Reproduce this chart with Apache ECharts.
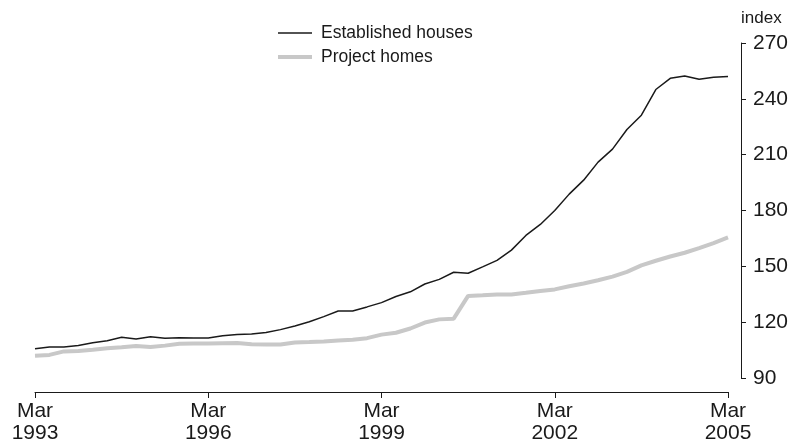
<!DOCTYPE html>
<html>
<head>
<meta charset="utf-8">
<style>
  html, body { margin: 0; padding: 0; background: #ffffff; }
  #chart { width: 792px; height: 445px; }
</style>
<script src="https://cdn.jsdelivr.net/npm/echarts@6/dist/echarts.min.js"></script>
</head>
<body>
<div id="chart"></div>
<script>
// Quarterly price indexes, March 1993 to March 2005
var quarters = [];
(function () {
  var months = ['Mar', 'Jun', 'Sep', 'Dec'];
  for (var y = 1993; y <= 2005; y++) {
    for (var m = 0; m < 4; m++) {
      if (y === 2005 && m > 0) break;
      quarters.push(months[m] + '\n' + y);
    }
  }
})();

var establishedHouses = [
  105.7, 106.7, 106.7, 107.5, 109.0, 110.0, 111.9, 111.0, 112.2, 111.3,
  111.6, 111.5, 111.5, 112.7, 113.4, 113.6, 114.4, 116.0, 117.9, 120.2,
  123.0, 126.0, 126.0, 128.2, 130.5, 133.8, 136.3, 140.5, 143.0, 146.8,
  146.3, 149.7, 153.2, 158.7, 166.6, 172.5, 180.0, 188.8, 196.3, 206.0,
  213.0, 223.5, 231.2, 245.0, 251.0, 252.3, 250.5, 251.6, 252.0
];

var projectHomes = [
  102.0, 102.4, 104.3, 104.5, 105.2, 106.0, 106.5, 107.2, 106.6, 107.4,
  108.4, 108.6, 108.6, 108.7, 108.8, 108.1, 108.0, 108.0, 109.1, 109.3,
  109.6, 110.1, 110.6, 111.4, 113.3, 114.3, 116.6, 119.8, 121.5, 121.9,
  134.1, 134.4, 134.8, 134.9, 135.8, 136.8, 137.6, 139.3, 140.8, 142.5,
  144.5, 147.0, 150.5, 153.0, 155.3, 157.3, 159.8, 162.5, 165.5
];

var yTicks = { min: 90, max: 270, step: 30 };
var seriesNames = ['Established houses', 'Project homes'];

var FONT = 'Liberation Sans';
var INK = '#1a1a1a';
var GREY = '#c8c8c8';

var chart = echarts.init(document.getElementById('chart'), null, { renderer: 'canvas' });

chart.setOption({
  animation: false,
  backgroundColor: '#ffffff',
  textStyle: { fontFamily: FONT, color: INK },
  grid: { left: 35, right: 64, top: 43, bottom: 67, containLabel: false },
  legend: {
    orient: 'vertical',
    left: 278,
    top: 24,
    padding: 0,
    itemWidth: 34,
    itemHeight: 14,
    itemGap: 6,
    symbolKeepAspect: true,
    data: [
      { name: seriesNames[0], icon: 'path://M0,0H34V1.5H0Z' },
      { name: seriesNames[1], icon: 'path://M0,0H34V4H0Z' }
    ],
    textStyle: { fontFamily: FONT, fontSize: 17.5, color: INK, padding: [0, 0, 0, 4] }
  },
  xAxis: {
    type: 'category',
    data: quarters,
    boundaryGap: false,
    offset: 14,
    axisLine: { show: true, lineStyle: { color: INK, width: 1 } },
    axisTick: {
      show: true,
      length: 6,
      lineStyle: { color: INK, width: 1 },
      interval: function (i) { return i % 12 === 0; }
    },
    axisLabel: {
      interval: function (i) { return i % 12 === 0; },
      fontFamily: FONT,
      fontSize: 21,
      lineHeight: 22,
      color: INK,
      margin: 8
    },
    splitLine: { show: false }
  },
  yAxis: {
    type: 'value',
    position: 'right',
    offset: 13,
    min: yTicks.min,
    max: yTicks.max,
    interval: yTicks.step,
    name: 'index',
    nameLocation: 'end',
    nameGap: 25,
    nameTextStyle: { fontFamily: FONT, fontSize: 17, color: INK, align: 'left', verticalAlign: 'middle' },
    axisLine: { show: true, lineStyle: { color: INK, width: 1 } },
    axisTick: { show: true, inside: false, length: 5, lineStyle: { color: INK, width: 1 } },
    axisLabel: { fontFamily: FONT, fontSize: 21, color: INK, margin: 12 },
    splitLine: { show: false }
  },
  series: [
    {
      name: seriesNames[0],
      type: 'line',
      data: establishedHouses,
      symbol: 'none',
      z: 3,
      lineStyle: { color: INK, width: 1.5 },
      itemStyle: { color: INK }
    },
    {
      name: seriesNames[1],
      type: 'line',
      data: projectHomes,
      symbol: 'none',
      z: 2,
      lineStyle: { color: GREY, width: 4 },
      itemStyle: { color: GREY }
    }
  ]
});
</script>
</body>
</html>
